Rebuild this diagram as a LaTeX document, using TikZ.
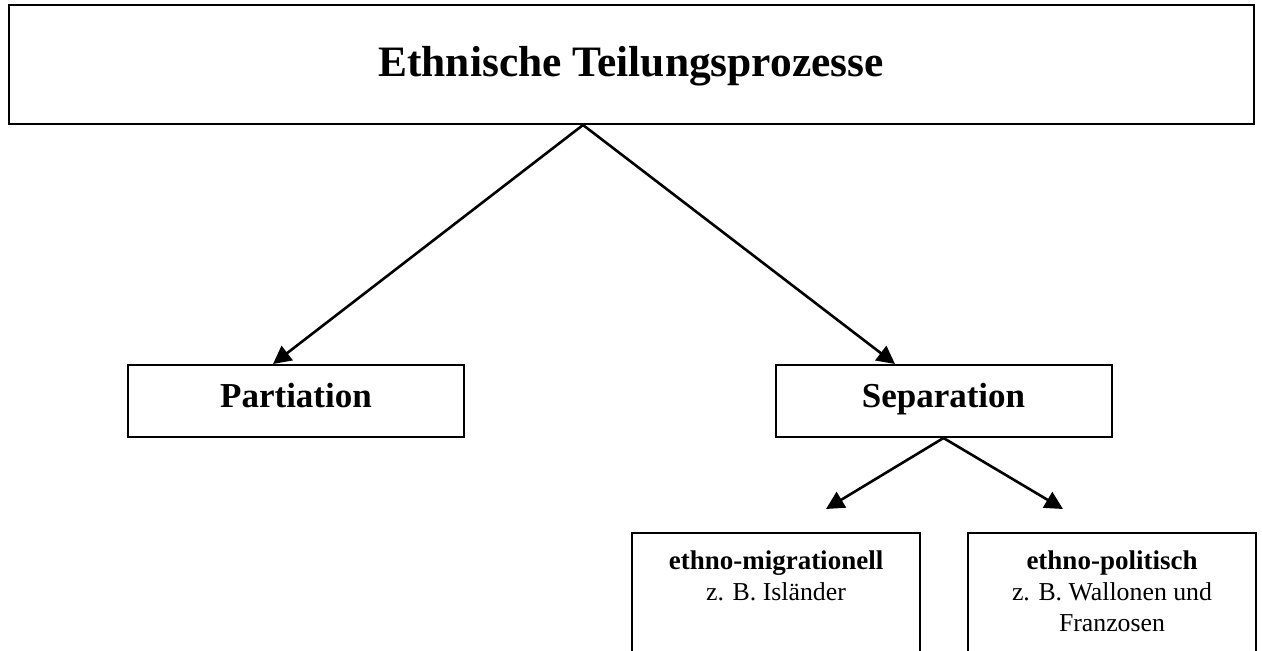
\documentclass[tikz,border=0pt]{standalone}
\usepackage{fontspec}
\setmainfont{Liberation Serif}
\usetikzlibrary{arrows.meta}
\begin{document}
\begin{tikzpicture}[x=0.5pt,y=-0.5pt,
  box/.style={draw, line width=1pt, inner sep=0pt},
  arr/.style={line width=1.3pt, -{Triangle[length=9pt,width=9pt]}},
  subtext/.style={anchor=north, align=center, inner sep=0pt, font=\fontsize{12.9}{15.5}\selectfont}]
\useasboundingbox (0,0) rectangle (1262,651);
\node[box, minimum width=622.5pt, minimum height=59.5pt, text height=12.5pt, text depth=0pt,
      font=\fontsize{21.7}{26}\selectfont\bfseries] (top) at (631,64.5) {Ethnische Teilungsprozesse};
\node[box, minimum width=168pt, minimum height=36pt, text height=7pt, text depth=0pt,
      font=\fontsize{17.5}{21}\selectfont\bfseries] (part) at (296,401) {Partiation};
\node[box, minimum width=168pt, minimum height=36pt, text height=7pt, text depth=0pt,
      font=\fontsize{17.5}{21}\selectfont\bfseries] (sep) at (943.5,401) {Separation};
\node[box, minimum width=144pt, minimum height=83.5pt] (em) at (776,616.5) {};
\node[box, minimum width=144pt, minimum height=83.5pt] (ep) at (1112,616.5) {};
\node[subtext] (emt) at (776,550) {{\fontsize{13.5}{15.5}\selectfont\bfseries ethno-migrationell}\\z. B. Isländer};
\node[subtext] (ept) at (1112,550) {{\fontsize{13.5}{15.5}\selectfont\bfseries ethno-politisch}\\z. B. Wallonen und\\Franzosen};
\coordinate (emtip) at (826,509);
\coordinate (eptip) at (1063,509);
\draw[arr] ([xshift=-24pt]top.south) -- ([xshift=-11.5pt]part.north);
\draw[arr] ([xshift=-24pt]top.south) -- ([xshift=-24.25pt]sep.north);
\draw[arr] (sep.south) -- (emtip);
\draw[arr] (sep.south) -- (eptip);
\end{tikzpicture}
\end{document}
